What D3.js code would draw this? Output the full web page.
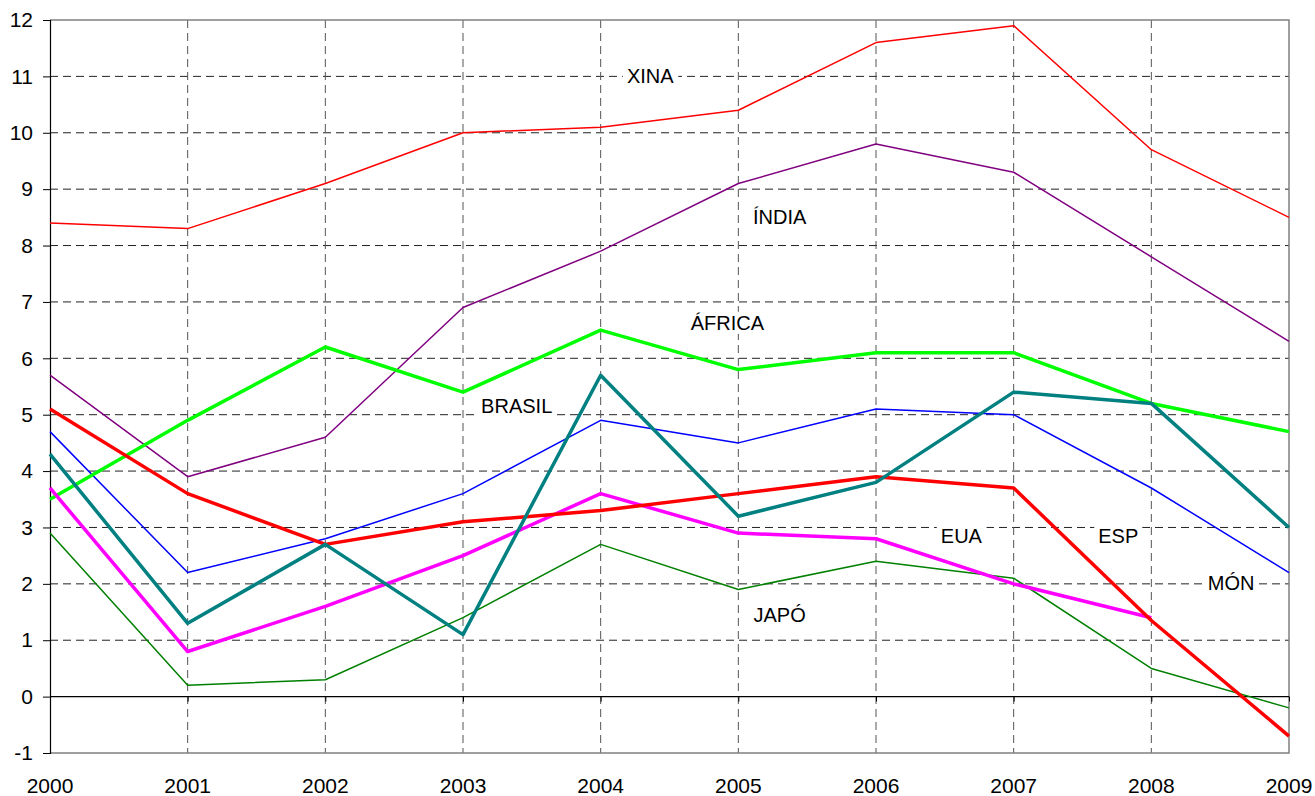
<!DOCTYPE html>
<html>
<head>
<meta charset="utf-8">
<script src="https://cdn.jsdelivr.net/npm/d3@7"></script>
<style>
  body { margin: 0; background: #fff; }
  text { font-family: "Liberation Sans", Arial, sans-serif; }
</style>
</head>
<body>
<script>
// years on the category axis
const years = [2000, 2001, 2002, 2003, 2004, 2005, 2006, 2007, 2008, 2009];
const yTicks = [-1, 0, 1, 2, 3, 4, 5, 6, 7, 8, 9, 10, 11, 12];

// GDP growth, % per year
const xina   = [8.4, 8.3, 9.1, 10.0, 10.1, 10.4, 11.6, 11.9, 9.7, 8.5];
const india  = [5.7, 3.9, 4.6, 6.9, 7.9, 9.1, 9.8, 9.3, 7.8, 6.3];
const africa = [3.5, 4.9, 6.2, 5.4, 6.5, 5.8, 6.1, 6.1, 5.2, 4.7];
const brasil = [4.3, 1.3, 2.7, 1.1, 5.7, 3.2, 3.8, 5.4, 5.2, 3.0];
const mon    = [4.7, 2.2, 2.8, 3.6, 4.9, 4.5, 5.1, 5.0, 3.7, 2.2];
const esp    = [5.1, 3.6, 2.7, 3.1, 3.3, 3.6, 3.9, 3.7, 1.35, -0.7];
const eua    = [3.7, 0.8, 1.6, 2.5, 3.6, 2.9, 2.8, 2.0, 1.4, null];
const japo   = [2.9, 0.2, 0.3, 1.4, 2.7, 1.9, 2.4, 2.1, 0.5, -0.2];

const series = [
  {values: xina,   color: "#ff0000", width: 1.5},
  {values: india,  color: "#800080", width: 1.5},
  {values: mon,    color: "#0000ff", width: 1.5},
  {values: japo,   color: "#008000", width: 1.5},
  {values: africa, color: "#00ff00", width: 3.5},
  {values: eua,    color: "#ff00ff", width: 3.5},
  {values: esp,    color: "#ff0000", width: 3.5},
  {values: brasil, color: "#008080", width: 3.5}
];

// series names, placed in data space (year, value)
const labelNames = ["XINA", "ÍNDIA", "ÁFRICA", "BRASIL", "EUA", "ESP", "MÓN", "JAPÓ"];
const labelYears = [2004.36, 2005.3, 2004.92, 2003.39, 2006.62, 2007.76, 2008.58, 2005.3];
const labelVals  = [11.0, 8.5, 6.63, 5.15, 2.85, 2.85, 2.02, 1.44];

const width = 1315, height = 796;
const margin = {left: 50, right: 1289, top: 20, bottom: 753};

const svg = d3.select("body").append("svg")
  .attr("width", width)
  .attr("height", height);

const x = d3.scaleLinear().domain([2000, 2009]).range([margin.left, margin.right]);
const y = d3.scaleLinear().domain([-1, 12]).range([margin.bottom, margin.top]);

// horizontal grid
svg.append("g")
  .selectAll("line")
  .data(yTicks.filter(d => d > -1 && d < 12 && d !== 0))
  .join("line")
    .attr("x1", margin.left).attr("x2", margin.right)
    .attr("y1", d => y(d)).attr("y2", d => y(d))
    .attr("stroke", "#222")
    .attr("stroke-width", 1)
    .attr("stroke-dasharray", "8,5");

// vertical grid
svg.append("g")
  .selectAll("line")
  .data(years.slice(1, -1))
  .join("line")
    .attr("x1", d => x(d)).attr("x2", d => x(d))
    .attr("y1", margin.top).attr("y2", margin.bottom)
    .attr("stroke", "#555")
    .attr("stroke-width", 1)
    .attr("stroke-dasharray", "8,5");

// plot frame (top, right, bottom grey)
svg.append("path")
  .attr("d", `M${margin.left},${margin.top}H${margin.right}V${margin.bottom}H${margin.left}`)
  .attr("fill", "none")
  .attr("stroke", "#808080")
  .attr("stroke-width", 1.5);

// y axis
const yAxis = svg.append("g")
  .attr("transform", `translate(${margin.left},0)`)
  .call(d3.axisLeft(y).tickValues(yTicks).tickSize(7).tickFormat(d => String(d)));
yAxis.select(".domain").attr("stroke", "#000").attr("stroke-width", 1.2);
yAxis.selectAll(".tick line").attr("stroke", "#000");
yAxis.selectAll("text")
  .attr("font-size", 21)
  .attr("fill", "#000")
  .attr("x", -17);

// zero line with year ticks
const xAxis = svg.append("g")
  .attr("transform", `translate(0,${y(0)})`)
  .call(d3.axisBottom(x).tickValues(years).tickSize(5).tickFormat(""));
xAxis.select(".domain").attr("stroke", "#000").attr("stroke-width", 1.2)
  .attr("d", `M${margin.left},0H${margin.right}`);
xAxis.selectAll(".tick line").attr("stroke", "#000");

// year labels below the plot
svg.append("g")
  .selectAll("text")
  .data(years)
  .join("text")
    .attr("x", d => x(d))
    .attr("y", margin.bottom + 40)
    .attr("text-anchor", "middle")
    .attr("font-size", 21)
    .text(d => d);

// series lines
const line = d3.line()
  .defined(d => d != null)
  .x((d, i) => x(years[i]))
  .y(d => y(d));

svg.append("g")
  .selectAll("path")
  .data(series)
  .join("path")
    .attr("d", d => line(d.values))
    .attr("fill", "none")
    .attr("stroke", d => d.color)
    .attr("stroke-width", d => d.width)
    .attr("stroke-linejoin", "round");

// series name labels with white backing
const lab = svg.append("g")
  .selectAll("g")
  .data(labelNames)
  .join("g")
    .attr("transform", (d, i) => `translate(${x(labelYears[i])},${y(labelVals[i])})`);

lab.append("text")
  .attr("text-anchor", "middle")
  .attr("dy", "0.35em")
  .attr("font-size", 20)
  .text(d => d);

lab.each(function() {
  const g = d3.select(this);
  const bb = g.select("text").node().getBBox();
  g.insert("rect", "text")
    .attr("x", bb.x - 4).attr("y", bb.y)
    .attr("width", bb.width + 8).attr("height", bb.height)
    .attr("fill", "#fff");
});
</script>
</body>
</html>
